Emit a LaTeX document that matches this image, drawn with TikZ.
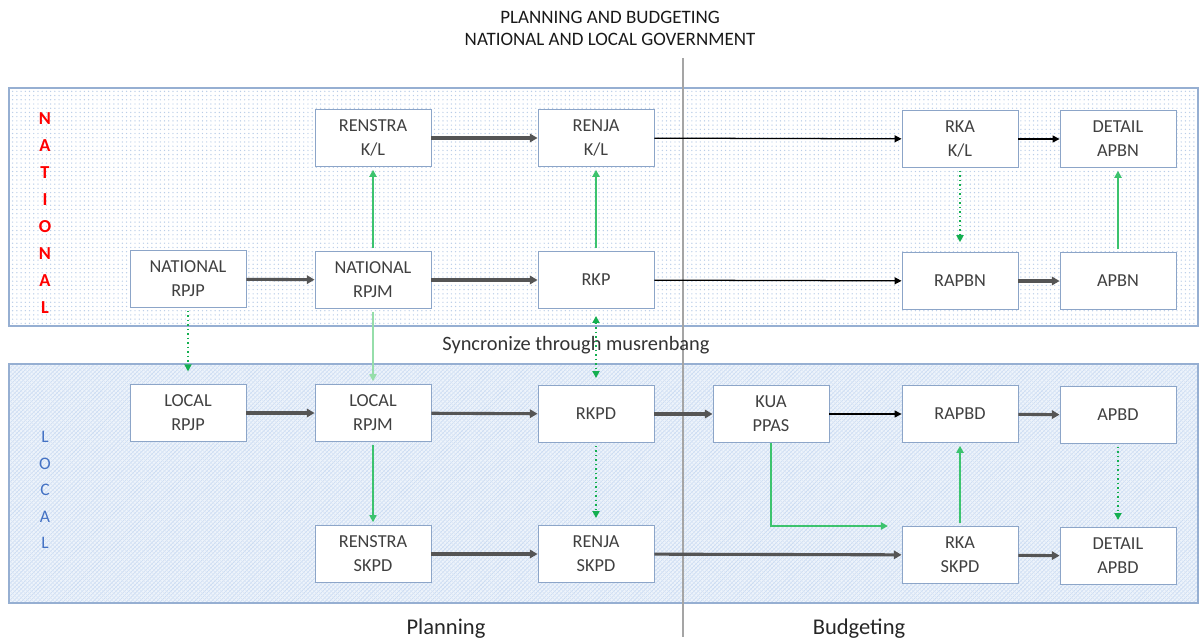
\documentclass[tikz,border=0pt]{standalone}
\usepackage{fontspec}
\setmainfont{Carlito}
\usetikzlibrary{arrows.meta,patterns}
\definecolor{pbedge}{RGB}{140,165,200}
\definecolor{pbpanel}{RGB}{150,175,210}
\definecolor{pbdots}{RGB}{185,205,232}
\definecolor{pblocal}{RGB}{238,244,251}
\definecolor{pbzig}{RGB}{200,218,242}
\definecolor{pbtext}{RGB}{64,64,64}
\definecolor{pbgreen}{RGB}{60,195,110}
\definecolor{pbpale}{RGB}{150,222,170}
\definecolor{pbdotgreen}{RGB}{20,175,80}
\definecolor{pbred}{RGB}{255,0,0}
\definecolor{pbblue}{RGB}{68,114,196}
\definecolor{pbdivider}{RGB}{165,165,165}
\definecolor{pbflow}{RGB}{85,85,85}

\begin{document}
\begin{tikzpicture}[x=0.025cm, y=-0.025cm,
    box/.style={draw=pbedge, fill=white, line width=0.6pt, minimum width=2.9cm,
        minimum height=1.425cm, align=center, text=pbtext, inner sep=1pt,
        font=\fontsize{13}{17}\selectfont},
    flow/.style={draw=pbflow, line width=2.2pt, -{Triangle[length=5.5pt,width=6pt]}},
    flowthin/.style={draw=black, line width=0.9pt, -{Triangle[length=5pt,width=5pt]}},
    syncline/.style={draw=pbgreen, line width=1.4pt, -{Triangle[length=5pt,width=5pt]},
        shorten <=2pt, shorten >=2pt},
    syncdot/.style={draw=pbdotgreen, line width=1.2pt, dotted, -{Triangle[length=5pt,width=5pt]},
        shorten <=2pt, shorten >=5pt},
    natletter/.style={text=pbred, font=\fontsize{13}{13}\selectfont\bfseries},
    locletter/.style={text=pbblue, font=\fontsize{12.5}{12}\selectfont},
    caption/.style={text=black!85, font=\fontsize{16}{18}\selectfont}]
    \useasboundingbox (0,0) rectangle (1199,644);

    % Panels
    \fill[white] (9,88) rectangle (1198,326);
    \fill[pattern=dots, pattern color=pbdots] (9,88) rectangle (1198,326);
    \draw[pbpanel, line width=0.8pt] (9,88) rectangle (1198,326);
    \fill[pblocal] (9,364) rectangle (1198,603);
    \fill[pattern=north east lines, pattern color=pbzig] (9,364) rectangle (1198,603);
    \fill[pattern=north west lines, pattern color=pbzig!70!white] (9,364) rectangle (1198,603);
    \draw[pbpanel, line width=0.8pt] (9,364) rectangle (1198,603);

    % Planning / budgeting divider
    \draw[pbdivider, line width=1.5pt] (683,58) -- (683,637);

    % Titles
    \node[align=center, text=black!90, font=\fontsize{13.5}{15.6}\selectfont] (title) at (610,28)
        {PLANNING AND BUDGETING\\NATIONAL AND LOCAL GOVERNMENT};
    \node[text=black!80, font=\fontsize{14.5}{16}\selectfont] (synctext) at (576,345)
        {Syncronize through musrenbang};
    \node[caption] (planning) at (446,629) {Planning};
    \node[caption] (budgeting) at (859,629) {Budgeting};

    % Side letters
    \foreach \ch [count=\i from 0] in {N,A,T,I,O,N,A,L}
        \node[natletter] (nat\i) at (45,{119+26.9*\i}) {\ch};
    \foreach \ch [count=\i from 0] in {L,O,C,A,L}
        \node[locletter] (loc\i) at (45,{437+26.5*\i}) {\ch};

    % National boxes
    \node[box] (renstrakl) at (373,138) {RENSTRA\\K/L};
    \node[box] (renjakl) at (596,138) {RENJA\\K/L};
    \node[box] (rkakl) at (960,139) {RKA\\K/L};
    \node[box] (detapbn) at (1118,139) {DETAIL\\APBN};
    \node[box] (nrpjp) at (188,279) {NATIONAL\\RPJP};
    \node[box] (nrpjm) at (373,280) {NATIONAL\\RPJM};
    \node[box] (rkp) at (596,280) {RKP};
    \node[box] (rapbn) at (960,281) {RAPBN};
    \node[box] (apbn) at (1118,281) {APBN};

    % Local boxes
    \node[box] (lrpjp) at (188,413) {LOCAL\\RPJP};
    \node[box] (lrpjm) at (373,413) {LOCAL\\RPJM};
    \node[box] (rkpd) at (596,414) {RKPD};
    \node[box] (kua) at (771,414) {KUA\\PPAS};
    \node[box] (rapbd) at (960,414) {RAPBD};
    \node[box] (apbd) at (1118,415) {APBD};
    \node[box] (renstraskpd) at (373,554) {RENSTRA\\SKPD};
    \node[box] (renjaskpd) at (596,554) {RENJA\\SKPD};
    \node[box] (rkaskpd) at (960,555) {RKA\\SKPD};
    \node[box] (detapbd) at (1118,556) {DETAIL\\APBD};

    % Main flows
    \draw[flow] (renstrakl) -- (renjakl);
    \draw[flowthin] (renjakl) -- (rkakl);
    \draw[flowthin] (rkakl) -- (detapbn);
    \draw[flow] (nrpjp) -- (nrpjm);
    \draw[flow] (nrpjm) -- (rkp);
    \draw[flowthin] (rkp) -- (rapbn);
    \draw[flow] (rapbn) -- (apbn);
    \draw[flow] (lrpjp) -- (lrpjm);
    \draw[flow] (lrpjm) -- (rkpd);
    \draw[flow] (rkpd) -- (kua);
    \draw[flowthin] (kua) -- (rapbd);
    \draw[flow] (rapbd) -- (apbd);
    \draw[flow] (renstraskpd) -- (renjaskpd);
    \draw[flow] (renjaskpd) -- (rkaskpd);
    \draw[flow] (rkaskpd) -- (detapbd);

    % Green links
    \draw[syncline] (nrpjm) -- (renstrakl);
    \draw[syncline] (rkp) -- (renjakl);
    \draw[syncline] (apbn) -- (detapbn);
    \draw[syncline, draw=pbpale, line width=1.1pt] (nrpjm) -- (lrpjm);
    \draw[syncline, line width=0.9pt] (lrpjm) -- (renstraskpd);
    \draw[syncline] (rkaskpd) -- (rapbd);
    \coordinate (kuaend) at (888,526);
    \draw[syncline, shorten <=0pt, shorten >=0pt] (kua.south) |- (kuaend);

    % Dotted links
    \draw[syncdot, shorten >=9pt] (nrpjp) -- (lrpjp);
    \draw[syncdot, {Triangle[length=5pt,width=5pt]}-{Triangle[length=5pt,width=5pt]},
        shorten <=5pt] (rkp) -- (rkpd);
    \draw[syncdot, shorten >=7pt] (rkakl) -- (rapbn);
    \draw[syncdot] (rkpd) -- (renjaskpd);
    \draw[syncdot] (apbd) -- (detapbd);
\end{tikzpicture}
\end{document}
